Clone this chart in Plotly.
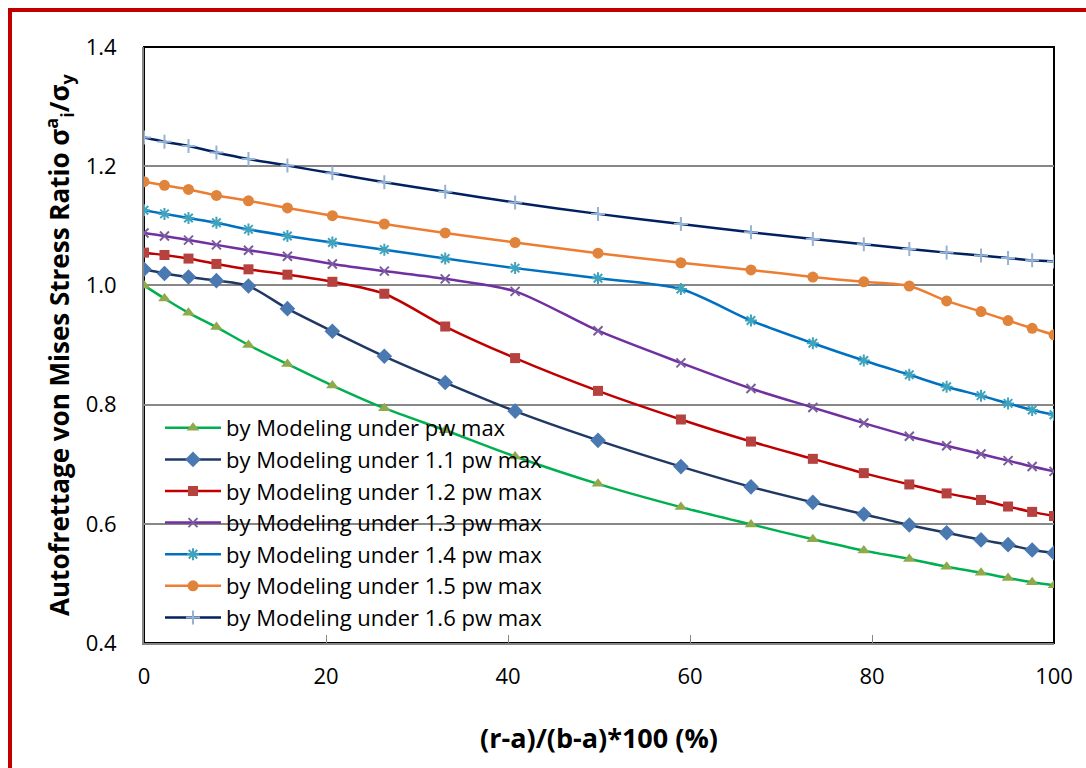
import plotly.graph_objects as go

x_pct = [0, 2.25, 4.89, 7.96, 11.48, 15.76, 20.7, 26.41, 33.1, 40.78, 49.89,
         59.0, 66.7, 73.5, 79.1, 84.1, 88.2, 91.98, 94.95, 97.6, 100]

s_pw = [1.000, 0.978, 0.954, 0.930, 0.900, 0.868, 0.832, 0.794, 0.757, 0.713, 0.667,
        0.628, 0.599, 0.574, 0.555, 0.541, 0.528, 0.518, 0.509, 0.502, 0.497]
s_11 = [1.027, 1.020, 1.014, 1.008, 0.999, 0.961, 0.923, 0.881, 0.837, 0.789, 0.740,
        0.696, 0.662, 0.636, 0.616, 0.598, 0.585, 0.573, 0.565, 0.556, 0.551]
s_12 = [1.055, 1.051, 1.045, 1.036, 1.027, 1.018, 1.006, 0.986, 0.931, 0.878, 0.823,
        0.775, 0.738, 0.709, 0.685, 0.666, 0.651, 0.640, 0.629, 0.620, 0.613]
s_13 = [1.088, 1.083, 1.076, 1.068, 1.059, 1.049, 1.036, 1.024, 1.011, 0.990, 0.924,
        0.870, 0.827, 0.795, 0.769, 0.747, 0.731, 0.717, 0.706, 0.696, 0.688]
s_14 = [1.126, 1.120, 1.113, 1.105, 1.094, 1.083, 1.072, 1.060, 1.045, 1.029, 1.012,
        0.994, 0.941, 0.903, 0.874, 0.850, 0.830, 0.815, 0.802, 0.791, 0.783]
s_15 = [1.174, 1.168, 1.161, 1.151, 1.142, 1.130, 1.117, 1.103, 1.088, 1.072, 1.054,
        1.038, 1.026, 1.014, 1.006, 0.999, 0.974, 0.956, 0.941, 0.928, 0.917]
s_16 = [1.248, 1.241, 1.234, 1.223, 1.212, 1.201, 1.188, 1.173, 1.157, 1.139, 1.120,
        1.103, 1.089, 1.078, 1.069, 1.061, 1.055, 1.050, 1.046, 1.042, 1.040]

names = ["by Modeling under pw max", "by Modeling under 1.1 pw max",
         "by Modeling under 1.2 pw max", "by Modeling under 1.3 pw max",
         "by Modeling under 1.4 pw max", "by Modeling under 1.5 pw max",
         "by Modeling under 1.6 pw max"]
series = [s_pw, s_11, s_12, s_13, s_14, s_15, s_16]
line_colors = ["#00B050", "#1F3864", "#C00000", "#7030A0", "#0070C0", "#ED7D31", "#002060"]
marker_colors = ["#8FAA4B", "#4A78B0", "#B5423F", "#7A5D9E", "#3FA3BE", "#E0843C", "#95B3D7"]
symbols = ["triangle-up", "diamond", "square", "x-thin", "asterisk-open", "circle", "cross-thin"]
sizes = [11, 12, 10, 9, 10, 11, 10]

fig = go.Figure()
for nm, ys, lc, mc, sym, sz in zip(names, series, line_colors, marker_colors, symbols, sizes):
    thin = sym in ("x-thin", "asterisk-open", "cross-thin")
    fig.add_trace(go.Scatter(
        x=x_pct, y=ys, name=nm, mode="lines+markers",
        line=dict(color=lc, width=2.5, shape="spline", smoothing=0.8),
        marker=dict(symbol=sym, size=sz, color=mc,
                    line=dict(color=mc, width=2 if thin else 0)),
    ))

L, R, T, B = 144, 32, 47, 125
W, H = 1086, 768
pw, ph = W - L - R, H - T - B

def px_x(p):
    return (p - L) / pw

def px_y(p):
    return 1 - (p - T) / ph

shapes = [
    dict(type="rect", xref="paper", yref="paper", x0=0, x1=1, y0=0, y1=1,
         line=dict(color="black", width=2), layer="below"),
    dict(type="line", xref="paper", yref="paper", x0=px_x(10), x1=px_x(10),
         y0=px_y(10), y1=px_y(790), line=dict(color="#C00000", width=4)),
    dict(type="line", xref="paper", yref="paper", x0=px_x(8), x1=px_x(1100),
         y0=px_y(10), y1=px_y(10), line=dict(color="#C00000", width=4)),
]

font_family = "Open Sans, Liberation Sans, sans-serif"
fig.update_layout(
    width=W, height=H,
    margin=dict(l=L, r=R, t=T, b=B),
    paper_bgcolor="white", plot_bgcolor="white",
    font=dict(family=font_family, color="black"),
    shapes=shapes,
    showlegend=True,
    legend=dict(x=px_x(160), y=px_y(407), xanchor="left", yanchor="top",
                bgcolor="rgba(0,0,0,0)", font=dict(size=22, family=font_family),
                tracegroupgap=0, itemwidth=56),
    xaxis=dict(range=[0, 100], dtick=20, tick0=0, showgrid=False, zeroline=False,
               showline=True, linecolor="#868686", linewidth=2,
               ticks="inside", ticklen=8, tickcolor="#868686", tickwidth=1,
               tickfont=dict(size=22), ticklabelstandoff=13,
               title=dict(text="<b>(r-a)/(b-a)*100 (%)</b>", font=dict(size=27), standoff=40)),
    yaxis=dict(range=[0.4, 1.4], dtick=0.2, tick0=0.4, tickformat=".1f",
               showgrid=True, gridcolor="#878787", gridwidth=1.5, zeroline=False,
               showline=True, linecolor="#868686", linewidth=2, ticks="",
               tickfont=dict(size=22), ticklabelstandoff=21,
               title=dict(text="<b>Autofrettage von Mises Stress Ratio σ<sup>a</sup><sub>i</sub>/σ<sub>y</sub></b>",
                          font=dict(size=26), standoff=9)),
)

fig.write_html("out.html")
